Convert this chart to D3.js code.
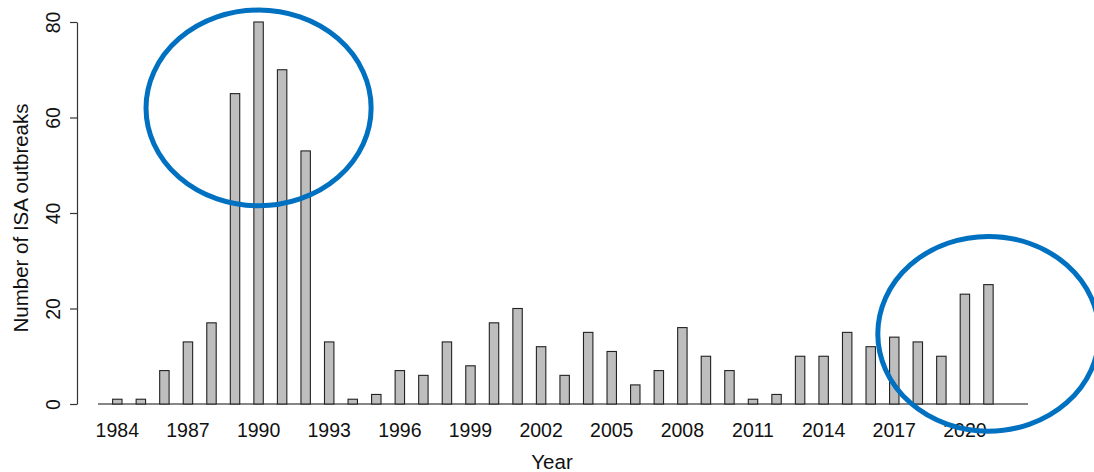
<!DOCTYPE html>
<html>
<head>
<meta charset="utf-8">
<script src="https://cdn.jsdelivr.net/npm/d3@7"></script>
<style>
  html, body { margin: 0; padding: 0; background: #ffffff; }
  svg { display: block; }
  text { font-family: "Liberation Sans", Arial, sans-serif; fill: #111; }
</style>
</head>
<body>
<svg id="chart" width="1094" height="472"></svg>
<script>
// ISA outbreaks per year
const years = d3.range(1984, 2022);
const outbreaks = [
  1, 1, 7, 13, 17, 65, 80, 70, 53, 13,
  1, 2, 7, 6, 13, 8, 17, 20, 12, 6,
  15, 11, 4, 7, 16, 10, 7, 1, 2, 10,
  10, 15, 12, 14, 13, 10, 23, 25
];
const yTicks = [0, 20, 40, 60, 80];
const xTickYears = d3.range(1984, 2022, 3);

// highlighted periods (centre year, centre level, half-width in years, half-height in outbreaks)
const ringYears = [1990, 2021];
const ringLevels = [62, 14.7];
const ringHalfYears = [4.78, 4.7];
const ringHalfLevels = [20.5, 20.4];

const svg = d3.select("#chart");

// scales: years on a continuous axis, bars 0.4 year wide
const x = d3.scaleLinear().domain([1983.18, 2022.68]).range([98, 1028]);
const y = d3.scaleLinear().domain([0, 80]).range([404, 22]);
const barWidth = x(1984.4) - x(1984);

// baseline under the bars
svg.append("line")
  .attr("x1", x.range()[0]).attr("x2", x.range()[1])
  .attr("y1", y(0)).attr("y2", y(0))
  .attr("stroke", "#5e5e5e").attr("stroke-width", 1.6);

// bars
svg.append("g").selectAll("rect")
  .data(years.map((yr, i) => ({ yr, v: outbreaks[i] })))
  .join("rect")
  .attr("x", d => x(d.yr) - barWidth / 2)
  .attr("y", d => y(d.v))
  .attr("width", barWidth)
  .attr("height", d => y(0) - y(d.v))
  .attr("fill", "#bebebe")
  .attr("stroke", "#222")
  .attr("stroke-width", 1.1);

// y axis
const yAxis = svg.append("g")
  .attr("transform", `translate(${77},0)`)
  .call(d3.axisLeft(y).tickValues(yTicks).tickSize(7).tickSizeOuter(0).tickPadding(0));
yAxis.select(".domain").attr("stroke", "#333").attr("stroke-width", 1.2);
yAxis.selectAll(".tick line").attr("stroke", "#333").attr("stroke-width", 1.2);
yAxis.selectAll(".tick text")
  .attr("x", null).attr("dy", null)
  .attr("text-anchor", "middle")
  .attr("transform", "translate(-17,0) rotate(-90)")
  .attr("font-size", 19.5)
  .attr("font-family", "Liberation Sans, Arial, sans-serif")
  .attr("fill", "#111");

// x tick labels (no tick marks)
svg.append("g").selectAll("text")
  .data(xTickYears)
  .join("text")
  .attr("x", d => x(d))
  .attr("y", 437)
  .attr("text-anchor", "middle")
  .attr("font-size", 19.5)
  .text(d => d);

// axis titles
svg.append("text")
  .attr("x", 552).attr("y", 469)
  .attr("text-anchor", "middle")
  .attr("font-size", 20.5)
  .text("Year");

svg.append("text")
  .attr("transform", `translate(28,${(y(0) + y(80)) / 2 + 5}) rotate(-90)`)
  .attr("text-anchor", "middle")
  .attr("font-size", 20.5)
  .text("Number of ISA outbreaks");

// highlight rings
svg.append("g").selectAll("ellipse")
  .data(ringYears.map((yr, i) => ({ yr, lv: ringLevels[i], hx: ringHalfYears[i], hy: ringHalfLevels[i] })))
  .join("ellipse")
  .attr("cx", d => x(d.yr))
  .attr("cy", d => y(d.lv))
  .attr("rx", d => x(d.yr + d.hx) - x(d.yr))
  .attr("ry", d => y(0) - y(d.hy))
  .attr("fill", "none")
  .attr("stroke", "#0070c0")
  .attr("stroke-width", 5);
</script>
</body>
</html>
